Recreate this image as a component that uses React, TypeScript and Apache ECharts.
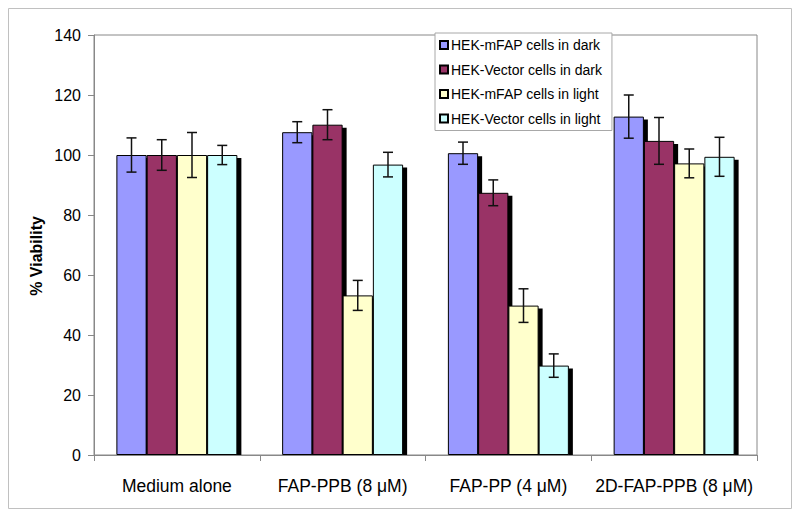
import React, { useEffect, useRef } from "react";
import * as echarts from "echarts";

const categories = ["Medium alone", "FAP-PPB (8 \u03bcM)", "FAP-PP (4 \u03bcM)", "2D-FAP-PPB (8 \u03bcM)"];
const seriesNames = [
  "HEK-mFAP cells in dark",
  "HEK-Vector cells in dark",
  "HEK-mFAP cells in light",
  "HEK-Vector cells in light",
];
const mfapDark = [100, 107.6, 100.6, 112.8];
const mfapDarkErr = [5.7, 3.5, 3.7, 7.2];
const vectorDark = [100, 110.1, 87.4, 104.7];
const vectorDarkErr = [5.1, 5, 4.3, 7.8];
const mfapLight = [100, 53.2, 49.8, 97.2];
const mfapLightErr = [7.5, 5, 5.6, 4.8];
const vectorLight = [100, 96.8, 29.8, 99.4];
const vectorLightErr = [3.2, 4.1, 3.9, 6.5];
const yTicks = [0, 20, 40, 60, 80, 100, 120, 140];

const colors = ["#9999FF", "#993366", "#FFFFCC", "#CCFFFF"];
const FONT = "'Liberation Sans', Arial, sans-serif";
const CAT_GAP = 0.27;

export default function App() {
  const ref = useRef<HTMLDivElement>(null);
  useEffect(() => {
    if (!ref.current) return;
    const chart = echarts.init(ref.current, null, { renderer: "svg" });
    const values = [mfapDark, vectorDark, mfapLight, vectorLight];
    const errs = [mfapDarkErr, vectorDarkErr, mfapLightErr, vectorLightErr];
    const n = values.length;

    const customData: number[][] = [];
    values.forEach((arr, s) => {
      arr.forEach((v, c) => customData.push([c, v, errs[s][c], s]));
    });

    const barGeom = (api: any) => {
      const c = api.value(0);
      const v = api.value(1);
      const s = api.value(3);
      const band = api.size([1, 0])[0];
      const bw = (band * (1 - CAT_GAP)) / n;
      const top = api.coord([c, v]);
      const base = api.coord([c, 0]);
      const x0 = top[0] - (n / 2) * bw + s * bw;
      return { x0, bw, topY: top[1], baseY: base[1], c, v, s };
    };

    const option: any = {
      animation: false,
      backgroundColor: "#fff",
      graphic: [
        {
          type: "rect",
          shape: { x: 8.5, y: 8.5, width: 783, height: 500 },
          style: { fill: "none", stroke: "#c0c0c0", lineWidth: 1 },
          silent: true,
          z: -10,
        },
        {
          type: "text",
          x: 36,
          y: 256,
          rotation: Math.PI / 2,
          style: {
            text: "% Viability",
            font: `bold 16px ${FONT}`,
            fill: "#000",
            align: "center",
            verticalAlign: "middle",
          },
        },
      ],
      legend: {
        orient: "vertical",
        left: 435,
        top: 33,
        data: seriesNames,
        icon: "rect",
        itemWidth: 8,
        itemHeight: 8,
        itemGap: 10.5,
        padding: [5, 10, 5, 4],
        backgroundColor: "#fff",
        borderColor: "#a8a8a8",
        borderWidth: 1,
        textStyle: { fontFamily: FONT, fontSize: 14, lineHeight: 14, color: "#000", padding: [0, 0, 0, -2] },
        z: 10,
      },
      grid: {
        left: 94,
        top: 35,
        right: 43,
        bottom: 62,
        show: true,
        borderColor: "#888",
        borderWidth: 1,
        backgroundColor: "transparent",
      },
      xAxis: {
        type: "category",
        data: categories,
        axisLine: { lineStyle: { color: "#888", width: 1 } },
        axisTick: { show: true, length: 6, alignWithLabel: false, interval: 0, lineStyle: { color: "#888" } },
        axisLabel: { fontFamily: FONT, fontSize: 17.5, color: "#000", margin: 22, interval: 0 },
        splitLine: { show: false },
      },
      yAxis: {
        type: "value",
        min: yTicks[0],
        max: yTicks[yTicks.length - 1],
        interval: 20,
        axisLine: { show: true, lineStyle: { color: "#888", width: 1 } },
        axisTick: { show: true, length: 6, lineStyle: { color: "#888" } },
        axisLabel: { fontFamily: FONT, fontSize: 16, color: "#000", margin: 13 },
        splitLine: { show: false },
      },
      series: [
        {
          type: "custom",
          name: "shadow",
          z: 1,
          silent: true,
          data: customData,
          renderItem: (_p: any, api: any) => {
            const g = barGeom(api);
            return {
              type: "rect",
              shape: { x: g.x0 + 4, y: g.topY + 3, width: g.bw, height: g.baseY - g.topY - 3 },
              style: { fill: "#000" },
            };
          },
        },
        ...seriesNames.map((name, i) => ({
          type: "bar",
          name,
          data: values[i],
          z: 2,
          barGap: "0%",
          barCategoryGap: CAT_GAP * 100 + "%",
          itemStyle: { color: colors[i], borderColor: "#000", borderWidth: 1 },
        })),
        {
          type: "custom",
          name: "errors",
          z: 5,
          silent: true,
          data: customData,
          renderItem: (_p: any, api: any) => {
            const g = barGeom(api);
            const err = api.value(2);
            const cx = g.x0 + g.bw / 2;
            const yHi = api.coord([g.c, g.v + err])[1];
            const yLo = api.coord([g.c, g.v - err])[1];
            const cap = 5;
            const st = { stroke: "#111", lineWidth: 1.5 };
            return {
              type: "group",
              children: [
                { type: "line", shape: { x1: cx, y1: yHi, x2: cx, y2: yLo }, style: st },
                { type: "line", shape: { x1: cx - cap, y1: yHi, x2: cx + cap, y2: yHi }, style: st },
                { type: "line", shape: { x1: cx - cap, y1: yLo, x2: cx + cap, y2: yLo }, style: st },
              ],
            };
          },
        },
      ],
    };
    chart.setOption(option);
    return () => chart.dispose();
  }, []);
  return <div ref={ref} style={{ width: 800, height: 517, position: "absolute", left: 0, top: 0 }} />;
}
